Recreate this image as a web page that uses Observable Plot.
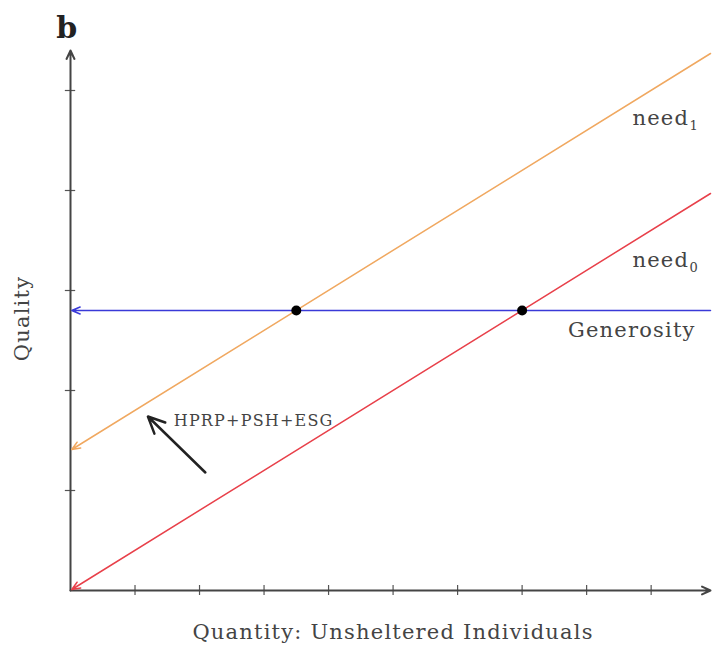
<!DOCTYPE html>
<html>
<head>
<meta charset="utf-8">
<script src="https://cdn.jsdelivr.net/npm/d3@7"></script>
<script src="https://cdn.jsdelivr.net/npm/@observablehq/plot@0.6"></script>
<style>
  html, body { margin: 0; padding: 0; background: #fff; }
</style>
</head>
<body>
<div id="chart"></div>
<script>
// Curve names and endpoints (axis units)
const curveNames = ["need₁", "need₀", "Generosity"];
const labelMain = ["need", "need", "Generosity"];
const labelSub = ["1", "0", ""];
const curveX1 = [9.92, 9.92, 9.92];
const curveY1 = [5.37, 3.97, 2.8];
const curveX2 = [0.02, 0.02, 0.02];
const curveY2 = [1.41, 0.01, 2.8];
const curveColors = ["#f0a860", "#e8404a", "#3a3ad8"];

// Equilibrium points
const eqX = [3.5, 7];
const eqY = [2.8, 2.8];

// Tick positions
const xTicks = [1, 2, 3, 4, 5, 6, 7, 8, 9];
const yTicks = [1, 2, 3, 4, 5];

// Shift arrow
const shiftArrow = [{x1: 2.09, y1: 1.18, x2: 1.2, y2: 1.74}];

const curves = curveNames.map((name, i) => ({
  name, x1: curveX1[i], y1: curveY1[i], x2: curveX2[i], y2: curveY2[i], color: curveColors[i]
}));
const points = eqX.map((x, i) => ({x, y: eqY[i]}));

const serif = "'DejaVu Serif', 'Liberation Serif', serif";

const chart = Plot.plot({
  width: 712,
  height: 645,
  marginLeft: 70,
  marginRight: 2,
  marginTop: 50,
  marginBottom: 55,
  x: {domain: [0, 9.92], axis: null},
  y: {domain: [0, 5.4], axis: null},
  style: {fontFamily: serif, background: "#fff", overflow: "visible", letterSpacing: "1.2px"},
  marks: [
    // tick marks
    Plot.ruleX(xTicks, {x: d => d, y1: -0.05, y2: 0.05, stroke: "#555", strokeWidth: 1.2}),
    Plot.ruleY(yTicks, {y: d => d, x1: -0.08, x2: 0.08, stroke: "#555", strokeWidth: 1.2}),
    // axes with arrowheads
    Plot.arrow([{x1: 0, y1: 0, x2: 9.92, y2: 0}], {x1: "x1", y1: "y1", x2: "x2", y2: "y2", stroke: "#444", strokeWidth: 2, headLength: 7, headAngle: 50}),
    Plot.arrow([{x1: 0, y1: 0, x2: 0, y2: 5.4}], {x1: "x1", y1: "y1", x2: "x2", y2: "y2", stroke: "#444", strokeWidth: 2, headLength: 7, headAngle: 50}),
    // curves
    Plot.arrow(curves, {x1: "x1", y1: "y1", x2: "x2", y2: "y2", stroke: d => d.color, strokeWidth: 1.5, headLength: 9, headAngle: 45}),
    // equilibrium points
    Plot.dot(points, {x: "x", y: "y", r: 5, fill: "#000"}),
    // shift arrow
    Plot.arrow(shiftArrow, {x1: "x1", y1: "y1", x2: "x2", y2: "y2", stroke: "#222", strokeWidth: 2.5, headLength: 11, headAngle: 50}),
    Plot.text(["HPRP+PSH+ESG"], {x: 1.6, y: 1.7, text: d => d, textAnchor: "start", fontSize: 16, fill: "#444"}),
    // curve labels
    Plot.text([labelMain[0]], {x: 8.71, y: 4.72, text: d => d, textAnchor: "start", fontSize: 21, fill: "#444"}),
    Plot.text([labelSub[0]], {x: 8.71, y: 4.72, dx: 57, dy: 7, text: d => d, textAnchor: "start", fontSize: 13, fill: "#444"}),
    Plot.text([labelMain[1]], {x: 8.71, y: 3.30, text: d => d, textAnchor: "start", fontSize: 21, fill: "#444"}),
    Plot.text([labelSub[1]], {x: 8.71, y: 3.30, dx: 57, dy: 7, text: d => d, textAnchor: "start", fontSize: 13, fill: "#444"}),
    Plot.text([labelMain[2]], {x: 8.7, y: 2.60, text: d => d, fontSize: 21, fill: "#444"}),
    // axis titles
    Plot.text(["Quantity: Unsheltered Individuals"], {x: 5.0, y: -0.42, text: d => d, fontSize: 21, fill: "#444"}),
    Plot.text(["Quality"], {x: -0.74, y: 2.72, text: d => d, rotate: -90, fontSize: 21, fill: "#444"}),
    // panel letter
    Plot.text(["b"], {x: -0.05, y: 5.62, text: d => d, fontSize: 30, fontWeight: "bold", fill: "#222"})
  ]
});
document.getElementById("chart").appendChild(chart);
</script>
</body>
</html>
